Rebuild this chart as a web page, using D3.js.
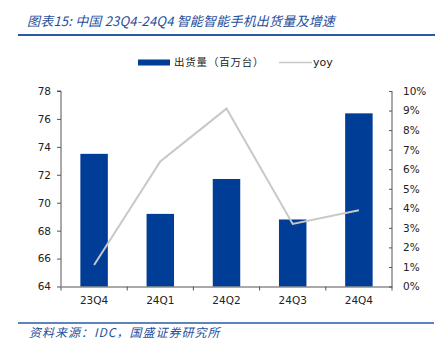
<!DOCTYPE html>
<html><head><meta charset="utf-8">
<script src="https://cdn.jsdelivr.net/npm/d3@7"></script>
<style>body{margin:0;background:#fff}svg{display:block}</style>
</head><body>
<svg id="c" width="444" height="354"></svg>
<script>
const categories = ["23Q4","24Q1","24Q2","24Q3","24Q4"];
const shipments = [73.5, 69.2, 71.7, 68.8, 76.4];
const yoy = [1.1, 6.4, 9.1, 3.2, 3.9];
const leftTicks = [64,66,68,70,72,74,76,78];
const rightTicks = [0,1,2,3,4,5,6,7,8,9,10];

const svg = d3.select("#c");
const L = 61, R = 392, T = 91, B = 286.5;
const blue = "#003d96", gray = "#c8c8c8", axisC = "#555", txt = "#222";
const latin = "'DejaVu Sans', Verdana, sans-serif";
const cjk = "'Noto Sans CJK SC', sans-serif";

const x = d3.scaleBand().domain(categories).range([L, R]);
const yL = d3.scaleLinear().domain([64, 78]).range([B, T]);
const yR = d3.scaleLinear().domain([0, 10]).range([B, T]);

// title
svg.append("text").attr("x", 27).attr("y", 26)
  .attr("font-family", cjk).attr("font-size", 13).attr("font-style", "italic")
  .attr("fill", "#1f4e9c").attr("letter-spacing", 0.2)
  .text("图表15:  中国 23Q4-24Q4 智能智能手机出货量及增速");
svg.append("line").attr("x1", 18).attr("x2", 435).attr("y1", 35).attr("y2", 35)
  .attr("stroke", "#2a5aa6").attr("stroke-width", 2);

// legend
svg.append("rect").attr("x", 138).attr("y", 59.5).attr("width", 32).attr("height", 6).attr("fill", blue);
svg.append("text").attr("x", 174).attr("y", 66).attr("font-family", cjk).attr("font-size", 10.5)
  .attr("fill", txt).attr("letter-spacing", 0.8).text("出货量（百万台）");
svg.append("line").attr("x1", 279).attr("x2", 312).attr("y1", 62.5).attr("y2", 62.5)
  .attr("stroke", gray).attr("stroke-width", 1.5);
svg.append("text").attr("x", 313).attr("y", 66).attr("font-family", latin).attr("font-size", 11)
  .attr("fill", txt).text("yoy");

// bars
const bw = x.bandwidth() * 0.415;
svg.append("g").selectAll("rect").data(categories).join("rect")
  .attr("x", (d) => x(d) + (x.bandwidth() - bw) / 2)
  .attr("width", bw)
  .attr("y", (d, i) => yL(shipments[i]))
  .attr("height", (d, i) => B - yL(shipments[i]))
  .attr("fill", blue);

// left axis
const gL = svg.append("g").attr("transform", `translate(${L},0)`)
  .call(d3.axisLeft(yL).tickValues(leftTicks).tickSize(4).tickPadding(6).tickFormat(d3.format("d")));
// right axis
const gR = svg.append("g").attr("transform", `translate(${R},0)`)
  .call(d3.axisRight(yR).tickValues(rightTicks).tickSizeInner(-3).tickSizeOuter(0).tickPadding(11).tickFormat(d => d + "%"));
// bottom axis
const gB = svg.append("g").attr("transform", `translate(0,${B})`)
  .call(d3.axisBottom(x).tickSize(0).tickPadding(10));
// category boundary ticks
svg.append("g").selectAll("line").data(categories).join("line")
  .attr("x1", d => x(d) + x.bandwidth()).attr("x2", d => x(d) + x.bandwidth())
  .attr("y1", B).attr("y2", B + 4).attr("stroke", axisC);
svg.append("line").attr("x1", L).attr("x2", L).attr("y1", B).attr("y2", B + 4).attr("stroke", axisC);

[gL, gR, gB].forEach(g => {
  g.select(".domain").attr("stroke", axisC);
  g.selectAll(".tick line").attr("stroke", axisC);
  g.selectAll("text").attr("font-family", latin).attr("font-size", 10.5).attr("fill", txt);
});
gR.select(".domain").attr("d", `M0,${T}V${B}`);
gL.select(".domain").attr("d", `M-4,${T}H0V${B}`);

// yoy line
const line = d3.line().x((d, i) => x(categories[i]) + x.bandwidth() / 2).y(d => yR(d));
svg.append("path").datum(yoy).attr("d", line).attr("fill", "none")
  .attr("stroke", gray).attr("stroke-width", 2);

// footer
svg.append("line").attr("x1", 18).attr("x2", 434).attr("y1", 323).attr("y2", 323)
  .attr("stroke", "#2a5aa6").attr("stroke-width", 1.5);
svg.append("text").attr("x", 29).attr("y", 337)
  .attr("font-family", cjk).attr("font-size", 12).attr("font-style", "italic")
  .attr("fill", "#1f4e9c").attr("letter-spacing", 1).text("资料来源：IDC，国盛证券研究所");
</script>
</body></html>
